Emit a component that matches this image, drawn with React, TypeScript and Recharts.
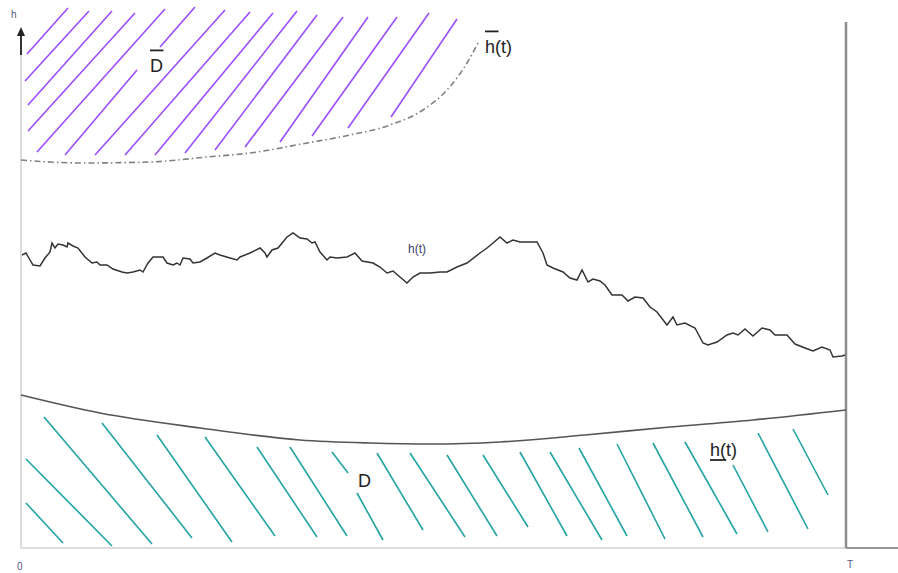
import { ComposedChart, Line, ReferenceLine, Scatter, XAxis, YAxis } from 'recharts';

// t runs 0..825 between the h axis and the T line, h is 0 on the time axis
const tDomain = [-21, 877];
const hDomain = [-25, 548];
const T = 825;

const walkT = [1, 5, 9, 12, 19, 24, 29, 31, 34, 37, 42, 46, 47, 52, 57, 64, 71, 76, 79, 86, 92, 101, 106, 112, 119, 122, 127, 132, 142, 146, 152, 156, 159, 162, 169, 172, 179, 186, 194, 199, 209, 216, 219, 229, 239, 244, 246, 251, 257, 266, 272, 279, 286, 291, 294, 299, 306, 309, 316, 326, 334, 341, 352, 359, 366, 372, 379, 386, 392, 399, 409, 419, 426, 436, 446, 459, 466, 472, 479, 486, 492, 499, 516, 522, 526, 532, 542, 549, 556, 561, 567, 572, 579, 584, 591, 601, 607, 614, 622, 629, 636, 646, 652, 656, 664, 674, 682, 687, 696, 706, 712, 717, 724, 732, 741, 749, 754, 766, 774, 784, 792, 801, 809, 812, 821, 824];
const walkH = [293, 295, 288, 283, 282, 290, 296, 305, 300, 304, 303, 301, 305, 302, 300, 291, 285, 286, 283, 283, 279, 276, 275, 276, 278, 276, 285, 291, 291, 285, 283, 285, 283, 290, 289, 285, 286, 290, 295, 293, 290, 288, 291, 295, 300, 295, 291, 298, 300, 311, 315, 310, 309, 305, 306, 296, 288, 291, 290, 291, 295, 287, 285, 281, 275, 277, 271, 265, 271, 275, 275, 276, 276, 281, 285, 295, 300, 305, 311, 305, 308, 306, 306, 295, 283, 280, 276, 270, 268, 278, 266, 269, 267, 263, 253, 253, 247, 251, 250, 241, 236, 223, 231, 223, 225, 220, 205, 203, 206, 213, 215, 213, 219, 212, 220, 218, 213, 213, 204, 200, 197, 201, 198, 191, 192, 193];

const upperT = [0, 29, 62, 129, 186, 229, 286, 329, 369, 402, 426, 446, 457];
const upperH = [388, 386, 385, 386, 391, 395, 405, 413, 423, 438, 458, 485, 505];

const lowerT = [0, 79, 179, 279, 349, 409, 479, 564, 649, 732, 825];
const lowerH = [153, 135, 120, 108, 105, 104, 106, 113, 121, 128, 138];

// hatch strokes: [t1, h1, t2, h2]
const upperHatch = [
  [6, 494, 47, 540], [4, 467, 68, 537], [7, 443, 91, 537], [7, 417, 114, 535],
  [16, 396, 144, 539], [44, 393, 116, 478], [139, 501, 174, 541], [74, 393, 204, 538],
  [104, 393, 229, 536], [134, 393, 252, 535], [164, 395, 276, 537], [194, 398, 296, 533],
  [224, 401, 322, 531], [259, 406, 347, 531], [291, 412, 376, 531], [327, 420, 408, 535],
  [370, 431, 436, 529],
];
const lowerHatch = [
  [5, 45, 42, 5], [5, 89, 91, 2], [23, 131, 131, 4], [81, 125, 171, 10],
  [136, 113, 211, 6], [184, 111, 254, 12], [236, 101, 296, 11], [269, 101, 326, 12],
  [311, 96, 327, 75], [336, 55, 362, 8], [356, 95, 402, 18], [389, 95, 444, 11],
  [426, 93, 476, 12], [462, 93, 507, 21], [499, 96, 546, 12], [529, 96, 581, 8],
  [558, 100, 606, 12], [596, 104, 644, 9], [632, 105, 682, 11], [664, 106, 716, 14],
  [712, 83, 747, 16], [737, 115, 787, 19], [772, 119, 807, 53],
];

const labelT = [-10, -4, 826, 129, 464, 387, 337, 689];
const labelH = [530, -22, -20, 476, 495, 295, 61, 92];
const labelText = ['h', '0', 'T', 'D', 'h(t)', 'h(t)', 'D', 'h(t)'];
const labelKind = ['tick', 'tick', 'tick', 'big', 'big', 'small', 'big', 'big'];
const labelBar = ['', '', '', 'over', 'over', '', '', 'under'];

const arrowTip = [{ t: 0, h: 521 }];

const walk = walkT.map((t, i) => ({ t, h: walkH[i] }));
const upper = upperT.map((t, i) => ({ t, h: upperH[i] }));
const lower = lowerT.map((t, i) => ({ t, h: lowerH[i] }));
const labels = labelT.map((t, i) => ({
  t,
  h: labelH[i],
  text: labelText[i],
  kind: labelKind[i],
  bar: labelBar[i],
}));

const textStyle: Record<string, { fontSize: number; fill: string }> = {
  big: { fontSize: 18, fill: '#222' },
  small: { fontSize: 12, fill: '#3d3d6b' },
  tick: { fontSize: 10, fill: '#55587a' },
};

function LabelMark(props: any) {
  const { cx, cy } = props;
  const p = props.payload ?? props;
  const st = textStyle[p.kind];
  const fs = st.fontSize;
  return (
    <g>
      <text x={cx} y={cy} fontSize={fs} fill={st.fill} fontFamily="'Liberation Sans', Arial, sans-serif">
        {p.text}
      </text>
      {p.bar === 'over' && (
        <line x1={cx} x2={cx + fs * 0.75} y1={cy - fs * 1.2} y2={cy - fs * 1.2} stroke="#222" strokeWidth={1.8} />
      )}
      {p.bar === 'under' && (
        <line x1={cx} x2={cx + fs * 0.9} y1={cy + 4} y2={cy + 4} stroke="#222" strokeWidth={1.8} />
      )}
    </g>
  );
}

function ArrowHead(props: any) {
  const { cx, cy } = props;
  return <path d={`M${cx},${cy} L${cx - 4},${cy + 9} L${cx + 4},${cy + 9} Z`} fill="#222" />;
}

export default function App() {
  return (
    <div style={{ position: 'absolute', left: 0, top: 0, width: 898, height: 573, background: '#fff' }}>
      <ComposedChart width={898} height={573} margin={{ top: 0, right: 0, bottom: 0, left: 0 }}>
        <XAxis type="number" dataKey="t" domain={tDomain} hide allowDataOverflow />
        <YAxis type="number" domain={hDomain} hide allowDataOverflow />

        {/* axes */}
        <ReferenceLine segment={[{ x: 0, y: 0 }, { x: T, y: 0 }]} stroke="#dcdcdc" strokeWidth={2} />
        <ReferenceLine segment={[{ x: T, y: 0 }, { x: 877, y: 0 }]} stroke="#999" strokeWidth={2} />
        <ReferenceLine segment={[{ x: 0, y: 0 }, { x: 0, y: 493 }]} stroke="#dcdcdc" strokeWidth={2} />
        <ReferenceLine segment={[{ x: 0, y: 493 }, { x: 0, y: 514 }]} stroke="#333" strokeWidth={2} />
        <ReferenceLine segment={[{ x: T, y: 0 }, { x: T, y: 526 }]} stroke="#8c8c8c" strokeWidth={2.5} />

        {upperHatch.map(([a, b, c, d], i) => (
          <ReferenceLine key={'u' + i} segment={[{ x: a, y: b }, { x: c, y: d }]} stroke="#9b4dff" strokeWidth={1.6} />
        ))}
        {lowerHatch.map(([a, b, c, d], i) => (
          <ReferenceLine key={'l' + i} segment={[{ x: a, y: b }, { x: c, y: d }]} stroke="#22a3a3" strokeWidth={1.6} />
        ))}

        <Line data={upper} dataKey="h" type="monotone" dot={false} stroke="#808080" strokeWidth={1.6}
          strokeDasharray="6 3 1.5 3" isAnimationActive={false} />
        <Line data={lower} dataKey="h" type="monotone" dot={false} stroke="#555" strokeWidth={1.6}
          isAnimationActive={false} />
        <Line data={walk} dataKey="h" type="linear" dot={false} stroke="#333" strokeWidth={1.5}
          isAnimationActive={false} />

        <Scatter data={arrowTip} dataKey="h" shape={ArrowHead} isAnimationActive={false} />
        <Scatter data={labels} dataKey="h" shape={LabelMark} isAnimationActive={false} />
      </ComposedChart>
    </div>
  );
}
